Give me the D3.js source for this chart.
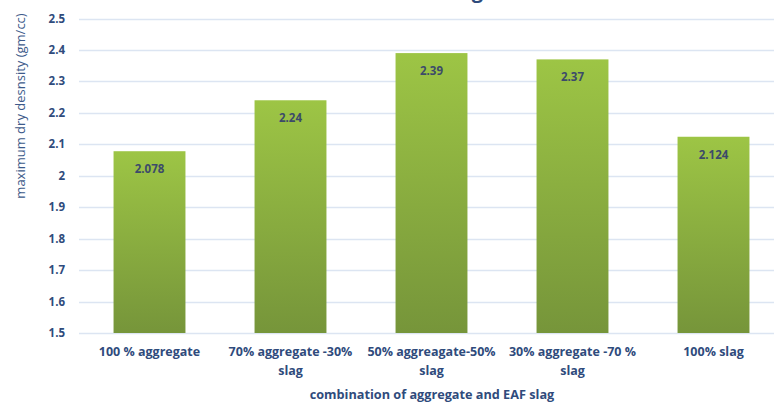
<!DOCTYPE html>
<html>
<head>
<meta charset="utf-8">
<script src="https://cdn.jsdelivr.net/npm/d3@7"></script>
<style>
  body { margin: 0; background: #fff; }
  svg { display: block; font-family: "Open Sans", "Noto Sans", sans-serif; }
</style>
</head>
<body>
<svg id="chart" width="774" height="403"></svg>
<script>
// data
var categories = [
  ["100 % aggregate"],
  ["70% aggregate -30%", "slag"],
  ["50% aggreagate-50%", "slag"],
  ["30% aggregate -70 %", "slag"],
  ["100% slag"]
];
var densities = [2.078, 2.24, 2.39, 2.37, 2.124];
var labels = ["2.078", "2.24", "2.39", "2.37", "2.124"];
var yTicks = [1.5, 1.6, 1.7, 1.8, 1.9, 2, 2.1, 2.2, 2.3, 2.4, 2.5];

var svg = d3.select("#chart");
var plotLeft = 79, plotRight = 784, plotTop = 18.5, plotBottom = 333;

var x = d3.scaleBand()
    .domain(d3.range(categories.length))
    .range([plotLeft, plotRight])
    .paddingInner(0.49)
    .paddingOuter(0.245);

var y = d3.scaleLinear()
    .domain([1.5, 2.5])
    .range([plotBottom, plotTop]);

var defs = svg.append("defs");
var grad = defs.append("linearGradient")
    .attr("id", "barGrad")
    .attr("x1", 0).attr("y1", 0).attr("x2", 0).attr("y2", 1);
grad.append("stop").attr("offset", "0%").attr("stop-color", "#9dc545");
grad.append("stop").attr("offset", "100%").attr("stop-color", "#76953a");

// gridlines
svg.append("g")
  .selectAll("line")
  .data(yTicks)
  .enter().append("line")
    .attr("x1", plotLeft)
    .attr("x2", 774)
    .attr("y1", function(d) { return Math.round(y(d)) + 0.5; })
    .attr("y2", function(d) { return Math.round(y(d)) + 0.5; })
    .attr("stroke", "#dce5f2")
    .attr("stroke-width", 1.5);

// y tick labels
svg.append("g")
  .selectAll("text")
  .data(yTicks)
  .enter().append("text")
    .attr("x", 65)
    .attr("y", function(d) { return y(d); })
    .attr("dy", "0.35em")
    .attr("text-anchor", "end")
    .attr("font-size", 11.5)
    .attr("font-weight", "bold")
    .attr("fill", "#2f4b7c")
    .text(function(d) { return d; });

// bars
svg.append("g")
  .selectAll("rect")
  .data(densities)
  .enter().append("rect")
    .attr("x", function(d, i) { return x(i); })
    .attr("width", x.bandwidth())
    .attr("y", function(d) { return y(d); })
    .attr("height", function(d) { return y(1.5) - y(d); })
    .attr("fill", "url(#barGrad)");

// value labels
svg.append("g")
  .selectAll("text")
  .data(densities)
  .enter().append("text")
    .attr("x", function(d, i) { return x(i) + x.bandwidth() / 2; })
    .attr("y", function(d) { return y(d) + 18; })
    .attr("dy", "0.35em")
    .attr("text-anchor", "middle")
    .attr("font-size", 11.5)
    .attr("font-weight", "bold")
    .attr("fill", "#3c4a6a")
    .text(function(d, i) { return labels[i]; });

// category labels
var cat = svg.append("g")
  .selectAll("text")
  .data(categories)
  .enter().append("text")
    .attr("x", function(d, i) { return x(i) + x.bandwidth() / 2; })
    .attr("y", 352)
    .attr("text-anchor", "middle")
    .attr("font-size", 12.5)
    .attr("font-weight", "bold")
    .attr("fill", "#2f4b7c");
cat.selectAll("tspan")
  .data(function(d) { return d; })
  .enter().append("tspan")
    .attr("x", function() { return d3.select(this.parentNode).attr("x"); })
    .attr("dy", function(d, i) { return i === 0 ? "0.35em" : 19; })
    .text(function(d) { return d; });

// axis titles
svg.append("text")
    .attr("x", 432)
    .attr("y", 395)
    .attr("dy", "0.35em")
    .attr("text-anchor", "middle")
    .attr("font-size", 12.7)
    .attr("font-weight", "bold")
    .attr("fill", "#2f4b7c")
    .text("combination of aggregate and EAF slag");

svg.append("text")
    .attr("transform", "translate(20,106) rotate(-90)")
    .attr("dy", "0.35em")
    .attr("text-anchor", "middle")
    .attr("font-size", 13)
    .attr("fill", "#3d5a8a")
    .text("maximum dry desnsity (gm/cc)");

// chart title, cut off at the top edge: only the tail of the last "g" shows
svg.append("text")
    .attr("x", 483)
    .attr("y", -2)
    .attr("text-anchor", "end")
    .attr("font-size", 20)
    .attr("font-weight", "bold")
    .attr("fill", "#2f4b7c")
    .text("Effect of EAF slag");
</script>
</body>
</html>
